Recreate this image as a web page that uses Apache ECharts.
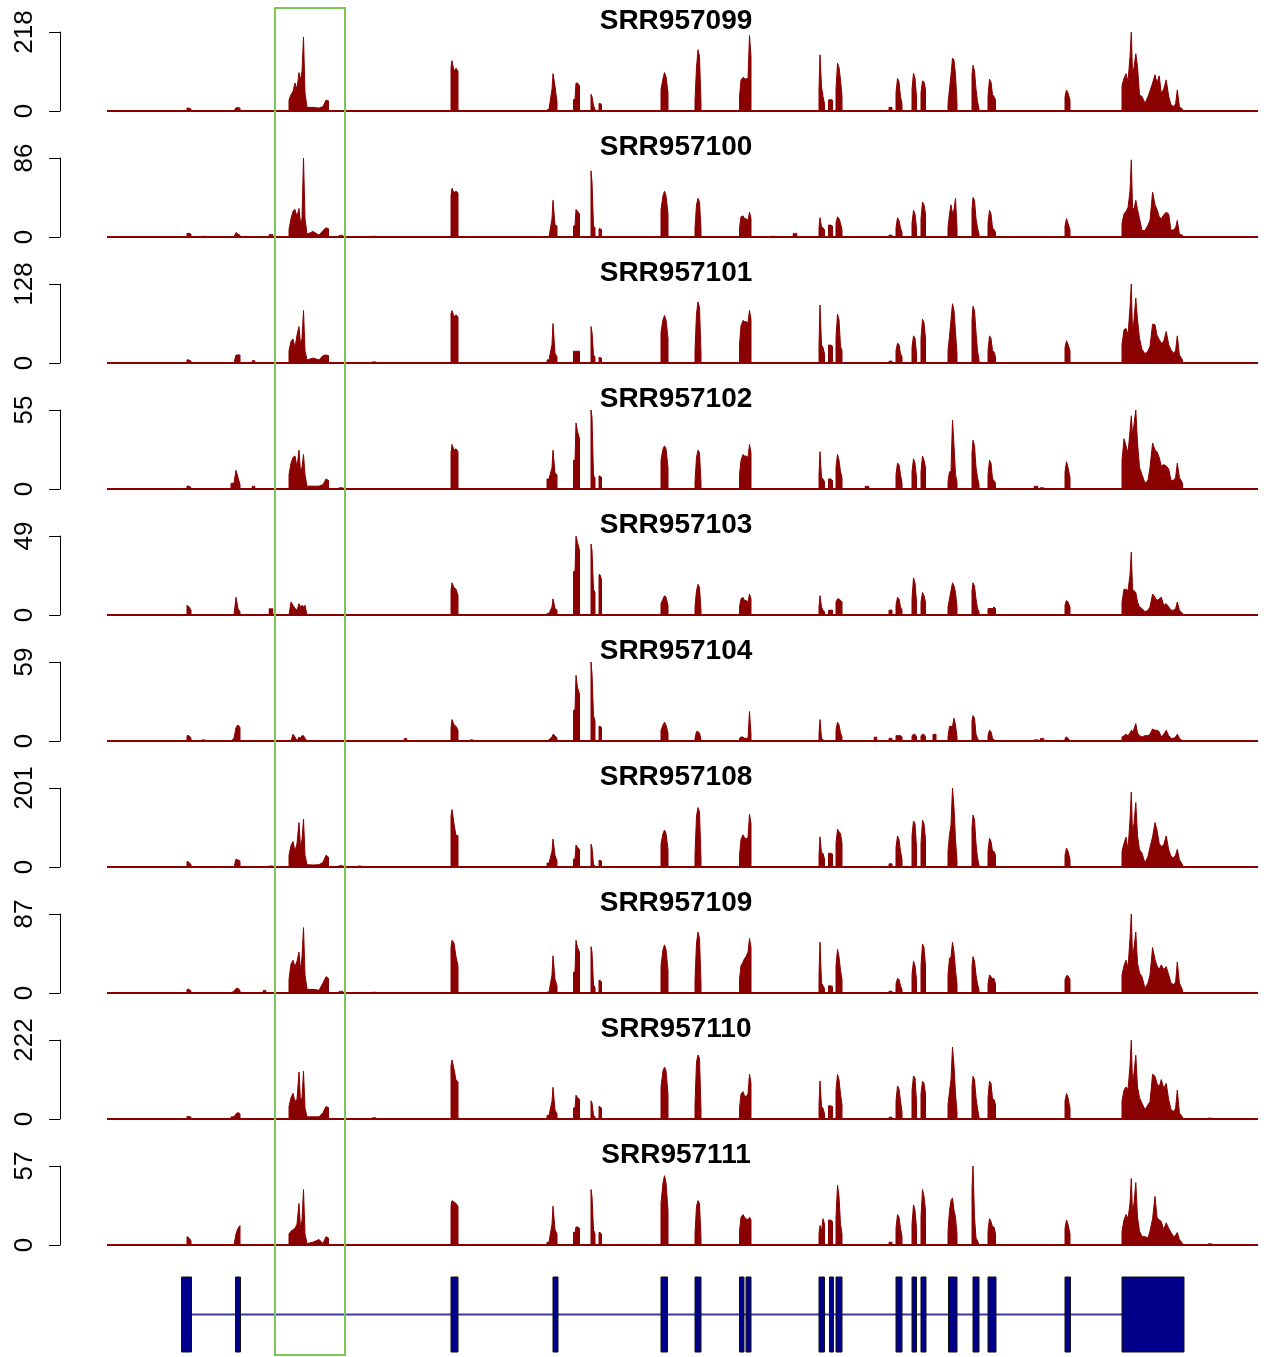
<!DOCTYPE html>
<html>
<head>
<meta charset="utf-8">
<title>Coverage tracks</title>
<script src="https://cdn.jsdelivr.net/npm/echarts@6/dist/echarts.min.js"></script>
<style>
  html, body { margin: 0; padding: 0; background: #fff; }
  #chart { width: 1264px; height: 1357px; }
</style>
</head>
<body>
<div id="chart"></div>
<script>
// sample names and the top tick of each track
const samples = ['SRR957099', 'SRR957100', 'SRR957101', 'SRR957102', 'SRR957103',
  'SRR957104', 'SRR957108', 'SRR957109', 'SRR957110', 'SRR957111'];
const yMax = [218, 86, 128, 55, 49, 59, 201, 87, 222, 57];

// plotted locus range and the highlighted window
const xRange = [107, 1258];
const highlight = [275, 345];

// positions where coverage was read, grouped by covered block
const regionPos = [
  [187, 189, 191],
  [231, 234, 236, 238, 240],
  [289, 291, 293, 295, 297, 299, 300.5, 302, 303.5, 305, 307, 313, 319, 323, 326, 328.5],
  [451, 452, 454, 456, 458],
  [547, 549, 552, 553, 555, 557],
  [573.5, 575, 576, 577.5, 579.5],
  [591, 592, 593.5, 595],
  [599, 600, 601.5],
  [661, 663, 664.5, 666, 668],
  [695, 696.5, 698, 699.5, 701],
  [739.5, 741, 743, 744.5, 746, 748, 749.5, 751],
  [819, 820, 821.5, 823, 824.5],
  [828.5, 830.5, 832.5],
  [836, 837.5, 839, 840.5, 842],
  [889, 892],
  [896, 897.5, 899, 900.5, 902],
  [912, 913.5, 915, 916.5],
  [921, 922.5, 924, 925.5],
  [933, 936],
  [948, 949.5, 951, 952.5, 954, 955.5, 957],
  [972, 973, 974.5, 976, 977.5, 979],
  [988, 989.5, 991, 992.5, 994, 995.5],
  [1065, 1066.5, 1068, 1070],
  [1122, 1124, 1126, 1128, 1130, 1131.3, 1132.5, 1134, 1135.8, 1137.5, 1139.5, 1142, 1145, 1148, 1150,
    1152.6, 1155, 1157, 1159.2, 1161.3, 1163.7, 1166.2, 1168.7, 1171, 1173.6, 1175.6, 1177.3, 1179.4, 1182.6]
];

const cov099 = [
  [8, 8, 5], [0, 0, 9, 9, 8],
  [30, 45, 54, 77, 60, 106, 85, 110, 204, 50, 10, 10, 8, 12, 30, 28],
  [120, 139, 110, 118, 110], [3, 5, 60, 103, 68, 25], [32, 32, 77, 77, 70], [46, 40, 15, 5], [21, 21, 18],
  [60, 90, 106, 95, 50], [30, 120, 169, 150, 20], [40, 85, 93, 90, 88, 90, 208, 150],
  [60, 155, 67, 40, 20], [30, 32, 30], [60, 132, 120, 86, 40], [10, 10],
  [50, 90, 80, 40, 20], [60, 104, 90, 40], [50, 83, 80, 60], [0, 0],
  [20, 60, 100, 146, 140, 100, 20], [100, 126, 110, 60, 26, 5], [40, 88, 80, 45, 40, 30], [40, 58, 50, 30],
  [70, 90, 103, 81, 150, 218, 104, 120, 158, 123, 44, 40, 21, 40, 55, 77, 100, 77, 97, 49, 60, 86, 40, 17, 12, 20, 58, 12, 5]
];
const cov100 = [
  [4, 4, 3], [0, 0, 5, 3, 2],
  [8, 20, 28, 30, 22, 31, 15, 20, 86, 20, 3, 6, 2, 7, 10, 9],
  [45, 53, 48, 50, 48], [0, 0, 20, 40, 13, 12], [12, 12, 30, 28, 25], [72, 60, 12, 10], [9, 9, 8],
  [30, 45, 50, 45, 25], [10, 35, 42, 38, 8], [10, 22, 23, 20, 20, 18, 27, 20],
  [10, 21, 11, 10, 8], [13, 13, 12], [15, 22, 20, 15, 8], [2, 2],
  [10, 21, 18, 10, 5], [15, 29, 25, 10], [20, 38, 35, 25], [0, 0],
  [10, 25, 35, 25, 30, 42, 10], [30, 43, 40, 20, 10, 3], [15, 29, 25, 10, 8, 5], [12, 20, 15, 8],
  [15, 25, 28, 32, 50, 84, 32, 30, 40, 30, 20, 7, 7, 13, 18, 49, 35, 30, 22, 20, 24, 27, 25, 7, 8, 10, 18, 3, 2]
];
const cov101 = [
  [5, 5, 3], [0, 0, 13, 13, 13],
  [20, 35, 39, 25, 45, 59, 30, 40, 85, 20, 5, 8, 5, 12, 13, 12],
  [80, 85, 75, 78, 75], [5, 5, 30, 64, 16, 10], [19, 19, 19, 19, 19], [59, 50, 13, 10], [9, 9, 8],
  [50, 70, 77, 70, 40], [20, 80, 99, 90, 15], [30, 60, 69, 67, 67, 65, 85, 70],
  [30, 94, 29, 25, 15], [29, 29, 27], [40, 79, 70, 27, 20], [3, 3],
  [20, 32, 30, 15, 10], [25, 44, 40, 15], [40, 71, 65, 40], [0, 0],
  [20, 43, 70, 96, 85, 50, 15], [70, 92, 85, 50, 20, 5], [20, 44, 40, 20, 18, 10], [25, 36, 30, 20],
  [30, 54, 56, 45, 90, 128, 48, 70, 105, 70, 40, 22, 15, 19, 27, 63, 62, 45, 38, 32, 35, 51, 30, 21, 16, 20, 44, 13, 5]
];
const cov102 = [
  [2, 2, 1], [4, 4, 13, 8, 3],
  [10, 18, 22, 23, 15, 27, 12, 15, 24, 10, 2, 2, 2, 3, 7, 6],
  [25, 31, 27, 28, 26], [7, 7, 15, 27, 11, 10], [20, 20, 46, 40, 35], [55, 50, 9, 8], [9, 9, 8],
  [20, 28, 30, 28, 15], [5, 22, 27, 25, 4], [10, 20, 24, 23, 23, 22, 31, 25],
  [10, 26, 8, 7, 5], [7, 7, 6], [15, 24, 20, 12, 8], [0, 0],
  [10, 18, 17, 10, 4], [12, 21, 18, 8], [12, 23, 20, 15], [0, 0],
  [5, 12, 12, 48, 30, 10, 5], [25, 34, 30, 15, 8, 3], [10, 20, 18, 7, 6, 4], [12, 19, 15, 8],
  [20, 35, 30, 25, 40, 51, 37, 45, 55, 32, 15, 10, 4, 6, 15, 32, 27, 26, 22, 16, 17, 16, 14, 6, 6, 8, 18, 8, 4]
];
const cov103 = [
  [6, 5, 3], [0, 0, 11, 4, 2],
  [0, 8, 6, 4, 3, 7, 5, 6, 5, 6, 0, 0, 0, 0, 0, 0],
  [15, 20, 17, 16, 12], [1, 1, 5, 10, 4, 3], [27, 27, 49, 45, 40], [44, 40, 16, 14], [25, 25, 22],
  [7, 10, 12, 11, 6], [5, 15, 19, 17, 3], [5, 10, 11, 9, 9, 8, 13, 10],
  [5, 12, 5, 3, 2], [3, 3, 3], [8, 10, 10, 9, 8], [3, 3],
  [6, 11, 10, 5, 3], [10, 23, 20, 8], [8, 14, 12, 8], [0, 0],
  [5, 10, 15, 20, 18, 14, 5], [15, 20, 18, 10, 4, 2], [4, 4, 4, 4, 5, 4], [6, 9, 8, 5],
  [8, 16, 16, 15, 25, 39, 16, 15, 14, 8, 5, 4, 2, 3, 5, 13, 11, 9, 10, 11, 6, 7, 5, 3, 3, 4, 8, 3, 1]
];
const cov104 = [
  [4, 4, 2], [0, 2, 10, 12, 10],
  [0, 0, 5, 3, 0, 3, 2, 4, 4, 2, 0, 0, 0, 0, 0, 0],
  [10, 16, 12, 11, 8], [0, 1, 3, 5, 4, 2], [23, 23, 49, 40, 35], [59, 50, 19, 15], [11, 11, 10],
  [8, 12, 14, 12, 6], [2, 7, 7, 6, 1], [2, 3, 3, 2, 2, 2, 22, 5],
  [5, 16, 2, 1, 0], [0, 0, 0], [8, 14, 12, 6, 3], [2, 2],
  [4, 4, 4, 4, 3], [4, 5, 5, 3], [4, 5, 5, 3], [5, 5],
  [3, 11, 11, 11, 17, 12, 3], [15, 19, 17, 5, 2, 0], [4, 8, 7, 2, 1, 0], [2, 3, 2, 0],
  [3, 4, 5, 4, 6, 8, 7, 9, 13, 6, 4, 3, 4, 4, 5, 9, 8, 8, 7, 3, 5, 8, 4, 2, 2, 3, 5, 2, 0]
];
const cov108 = [
  [14, 12, 6], [0, 0, 20, 18, 15],
  [30, 55, 65, 40, 60, 113, 50, 70, 122, 30, 6, 5, 6, 12, 30, 25],
  [130, 146, 110, 80, 80], [10, 10, 40, 71, 30, 15], [20, 20, 56, 50, 45], [58, 50, 5, 3], [17, 17, 15],
  [60, 85, 94, 85, 45], [30, 130, 151, 140, 20], [30, 70, 82, 75, 71, 75, 134, 110],
  [30, 77, 35, 35, 20], [35, 35, 33], [60, 96, 90, 85, 60], [8, 8],
  [50, 79, 70, 40, 20], [80, 117, 110, 50], [60, 119, 110, 70], [0, 0],
  [40, 82, 107, 201, 150, 70, 15], [100, 132, 120, 60, 23, 5], [40, 73, 65, 40, 40, 30], [30, 48, 40, 20],
  [40, 60, 76, 44, 120, 191, 86, 110, 164, 80, 44, 35, 10, 27, 50, 77, 113, 94, 60, 52, 56, 79, 44, 27, 23, 30, 45, 19, 5]
];
const cov109 = [
  [4, 4, 2], [0, 2, 5, 5, 3],
  [15, 32, 36, 29, 35, 45, 25, 40, 72, 20, 4, 4, 3, 11, 18, 16],
  [50, 58, 55, 40, 30], [1, 1, 20, 41, 15, 8], [23, 23, 58, 50, 45], [51, 45, 9, 6], [14, 14, 12],
  [30, 48, 53, 48, 25], [15, 55, 67, 60, 10], [15, 30, 34, 38, 40, 45, 60, 50],
  [20, 56, 11, 8, 5], [8, 8, 7], [30, 48, 40, 25, 15], [2, 2],
  [10, 16, 15, 8, 4], [20, 35, 30, 15], [30, 54, 50, 30], [0, 0],
  [20, 38, 40, 56, 45, 25, 10], [30, 40, 35, 20, 10, 3], [10, 20, 18, 16, 16, 10], [15, 19, 19, 15],
  [20, 30, 36, 28, 60, 87, 40, 50, 67, 33, 22, 18, 5, 11, 20, 50, 37, 30, 26, 31, 26, 29, 20, 11, 9, 12, 34, 11, 3]
];
const cov110 = [
  [7, 7, 5], [6, 6, 14, 18, 15],
  [35, 60, 72, 50, 55, 132, 50, 60, 134, 30, 6, 6, 6, 18, 35, 32],
  [150, 166, 140, 109, 105], [10, 10, 50, 89, 25, 15], [31, 31, 67, 60, 55], [51, 45, 10, 6], [35, 35, 30],
  [90, 135, 146, 135, 70], [40, 160, 180, 170, 25], [30, 70, 77, 65, 63, 70, 126, 100],
  [40, 107, 35, 30, 15], [37, 37, 35], [80, 125, 110, 70, 40], [5, 5],
  [50, 93, 85, 50, 20], [80, 121, 115, 50], [70, 106, 100, 70], [0, 0],
  [40, 77, 110, 202, 150, 70, 20], [90, 120, 110, 60, 30, 5], [60, 106, 100, 57, 55, 40], [50, 72, 60, 30],
  [50, 81, 90, 83, 150, 222, 100, 130, 179, 90, 60, 44, 26, 40, 49, 126, 120, 100, 90, 111, 86, 100, 54, 26, 21, 30, 81, 17, 5]
];
const cov111 = [
  [6, 5, 3], [0, 0, 8, 12, 14],
  [8, 10, 11, 12, 15, 30, 12, 18, 40, 8, 1, 2, 4, 1, 6, 5],
  [28, 32, 31, 30, 28], [2, 2, 15, 28, 11, 8], [9, 9, 13, 13, 12], [40, 35, 11, 8], [9, 9, 8],
  [30, 45, 50, 45, 25], [8, 28, 32, 30, 5], [10, 20, 22, 20, 19, 18, 20, 18],
  [8, 14, 10, 19, 15], [18, 18, 17], [20, 43, 35, 15, 8], [2, 2],
  [12, 22, 20, 12, 6], [15, 29, 25, 12], [20, 40, 35, 25], [0, 0],
  [10, 25, 32, 34, 25, 20, 8], [40, 57, 20, 5, 3, 0], [10, 19, 17, 13, 13, 8], [12, 18, 15, 8],
  [10, 18, 22, 19, 30, 48, 23, 30, 45, 20, 10, 6, 6, 5, 10, 19, 35, 20, 18, 17, 11, 16, 12, 9, 6, 7, 9, 4, 1]
];
const coverage = [cov099, cov100, cov101, cov102, cov103, cov104, cov108, cov109, cov110, cov111];

// scattered low reads in introns: block start / end, then one height per sample
const noisePos = [
  [202, 205], [252, 255], [263, 266], [269, 273], [339, 343], [358, 361], [372, 376], [404, 407],
  [470, 473], [772, 775], [793, 797], [865, 869], [874, 877], [1034, 1038], [1040, 1044], [1208, 1212]
];
const noise099 = [0, 0, 0, 0, 0, 0, 0, 0, 0, 0, 0, 0, 0, 0, 0, 0];
const noise100 = [1, 0, 0, 3, 2, 0, 1, 0, 0, 1, 4, 0, 0, 0, 0, 0];
const noise101 = [0, 4, 0, 0, 0, 0, 2, 0, 0, 0, 0, 0, 0, 0, 0, 0];
const noise102 = [0, 2, 0, 0, 1, 0, 0, 0, 0, 0, 0, 2, 0, 2, 1, 0];
const noise103 = [0, 0, 0, 4, 0, 0, 0, 0, 0, 0, 0, 0, 0, 0, 0, 0];
const noise104 = [1, 0, 0, 0, 0, 0, 0, 2, 1, 0, 0, 0, 3, 1, 2, 0];
const noise108 = [0, 0, 0, 3, 4, 3, 0, 0, 0, 0, 0, 0, 0, 0, 0, 0];
const noise109 = [0, 0, 3, 0, 2, 0, 1, 0, 0, 0, 0, 0, 0, 0, 0, 0];
const noise110 = [0, 0, 0, 0, 0, 0, 4, 0, 0, 0, 0, 0, 0, 0, 0, 3];
const noise111 = [0, 0, 0, 0, 0, 0, 0, 0, 0, 0, 0, 0, 0, 0, 0, 1];
const noise = [noise099, noise100, noise101, noise102, noise103, noise104, noise108, noise109, noise110, noise111];

// gene model: exon start / end
const exons = [
  [181.5, 191.5], [235.5, 240.5], [451, 458], [553, 558], [661, 667.5], [695, 701],
  [739.5, 744], [746, 751], [819, 824.5], [829.5, 833.5], [836, 842], [896, 902],
  [912, 916.5], [921, 926], [948.5, 957], [973, 979], [988, 996], [1065, 1070.5], [1122, 1184]
];

const FONT = '"Liberation Sans", Arial, Helvetica, sans-serif';
const RED = '#8b0000';
const trackTop = 32, trackStep = 126, trackHeight = 79;
const geneTop = 1277, geneHeight = 75;

// one polygon per covered block, closed down to zero
function coverageSeries(i) {
  const profile = coverage[i];
  return {
    type: 'custom', xAxisIndex: i, yAxisIndex: i, z: 3, clip: true,
    data: regionPos.map((xs, r) => [xs[0], xs[xs.length - 1], r]),
    encode: { x: [0, 1] },
    renderItem: (params, api) => {
      const r = api.value(2);
      const xs = regionPos[r], hs = profile[r];
      const pts = [api.coord([xs[0], 0])];
      xs.forEach((x, j) => pts.push(api.coord([x, hs[j]])));
      pts.push(api.coord([xs[xs.length - 1], 0]));
      return {
        type: 'polygon',
        shape: { points: pts },
        style: { fill: RED, stroke: RED, lineWidth: 1 }
      };
    }
  };
}

function noiseSeries(i) {
  return {
    type: 'custom', xAxisIndex: i, yAxisIndex: i, z: 3, clip: true,
    data: noisePos.map((p, k) => [p[0], p[1], noise[i][k]]).filter(d => d[2] > 0),
    encode: { x: [0, 1], y: 2 },
    renderItem: (params, api) => {
      const p0 = api.coord([api.value(0), api.value(2)]);
      const p1 = api.coord([api.value(1), 0]);
      return {
        type: 'rect',
        shape: { x: p0[0], y: p0[1], width: p1[0] - p0[0], height: p1[1] - p0[1] },
        style: { fill: RED, stroke: RED, lineWidth: 0.5 }
      };
    }
  };
}

const grids = [], xAxes = [], yAxes = [], series = [], titles = [];
samples.forEach((name, i) => {
  grids.push({ left: xRange[0], width: xRange[1] - xRange[0], top: trackTop + trackStep * i, height: trackHeight });
  xAxes.push({ gridIndex: i, type: 'value', min: xRange[0], max: xRange[1], show: false });
  yAxes.push({
    gridIndex: i, type: 'value', min: 0, max: yMax[i], interval: yMax[i],
    position: 'left', offset: 47,
    axisLine: { show: true, onZero: false, lineStyle: { color: '#000', width: 1 } },
    axisTick: { show: true, length: 11, lineStyle: { color: '#000', width: 1 } },
    axisLabel: { rotate: 90, margin: 22, fontSize: 26, color: '#000', fontFamily: FONT },
    splitLine: { show: false }
  });
  // baseline along the whole locus
  series.push({
    type: 'line', xAxisIndex: i, yAxisIndex: i, symbol: 'none', z: 2,
    data: [[xRange[0], 0], [xRange[1], 0]],
    lineStyle: { color: RED, width: 2 }
  });
  series.push(coverageSeries(i));
  series.push(noiseSeries(i));
  titles.push({
    text: name, left: 676, textAlign: 'center', top: trackTop + trackStep * i - 25, padding: 0,
    textStyle: { fontSize: 28, fontWeight: 'bold', color: '#000', fontFamily: FONT }
  });
});

// gene model track
const g = samples.length;
grids.push({ left: xRange[0], width: xRange[1] - xRange[0], top: geneTop, height: geneHeight });
xAxes.push({ gridIndex: g, type: 'value', min: xRange[0], max: xRange[1], show: false });
yAxes.push({ gridIndex: g, type: 'value', min: 0, max: 1, show: false });
series.push({
  type: 'line', xAxisIndex: g, yAxisIndex: g, symbol: 'none', z: 1,
  data: [[exons[0][0], 0.5], [exons[exons.length - 1][1], 0.5]],
  lineStyle: { color: '#3b3ba0', width: 2 }
});
series.push({
  type: 'custom', xAxisIndex: g, yAxisIndex: g, z: 2,
  data: exons,
  renderItem: (params, api) => {
    const p0 = api.coord([api.value(0), 1]);
    const p1 = api.coord([api.value(1), 0]);
    return {
      type: 'rect',
      shape: { x: p0[0], y: p0[1], width: p1[0] - p0[0], height: p1[1] - p0[1] },
      style: { fill: '#00008b', stroke: '#111', lineWidth: 1 }
    };
  }
});

const chart = echarts.init(document.getElementById('chart'));
chart.setOption({
  animation: false,
  backgroundColor: '#fff',
  title: titles,
  grid: grids,
  xAxis: xAxes,
  yAxis: yAxes,
  series: series
});

// green window over the highlighted interval
const hx0 = chart.convertToPixel({ xAxisIndex: 0 }, highlight[0]);
const hx1 = chart.convertToPixel({ xAxisIndex: 0 }, highlight[1]);
chart.setOption({
  graphic: [{
    type: 'rect', z: 100,
    shape: { x: hx0, y: 8, width: hx1 - hx0, height: 1347 },
    style: { fill: 'none', stroke: '#7cc65a', lineWidth: 2 }
  }]
});
</script>
</body>
</html>
